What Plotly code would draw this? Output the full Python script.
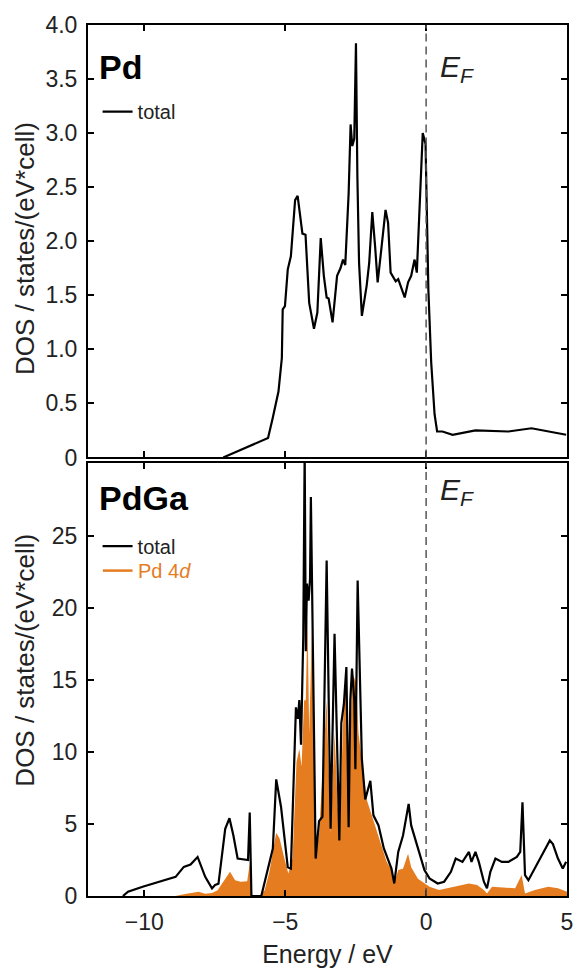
import plotly.graph_objects as go

# ---------------- data ----------------
# Pd total DOS (top panel)
pd_energy = [-7.20, -6.55, -5.61, -5.44, -5.24, -5.12, -5.09, -5.01, -4.91, -4.80,
             -4.65, -4.56, -4.47, -4.39, -4.28, -4.15, -3.98, -3.86, -3.74, -3.63,
             -3.53, -3.46, -3.32, -3.16, -3.04, -2.95, -2.87, -2.75, -2.68, -2.62,
             -2.55, -2.49, -2.44, -2.38, -2.28, -2.11, -2.02, -1.91, -1.81, -1.72,
             -1.58, -1.44, -1.35, -1.26, -1.08, -0.99, -0.76, -0.64, -0.53, -0.41,
             -0.33, -0.12, -0.02, 0.08, 0.18, 0.30, 0.39, 0.58, 0.94, 1.75,
             2.92, 3.74, 4.97]
pd_total = [0.00, 0.076, 0.18, 0.37, 0.61, 0.92, 1.37, 1.40, 1.74, 1.86,
            2.38, 2.42, 2.20, 2.07, 2.06, 1.43, 1.19, 1.34, 2.03, 1.68,
            1.48, 1.47, 1.25, 1.68, 1.75, 1.83, 1.78, 2.44, 3.08, 2.88,
            2.95, 3.83, 2.60, 1.80, 1.31, 1.59, 1.80, 2.27, 1.95, 1.62,
            1.95, 2.29, 2.17, 1.71, 1.63, 1.65, 1.48, 1.62, 1.68, 1.83,
            1.71, 3.00, 2.90, 1.55, 0.88, 0.40, 0.24, 0.24, 0.21, 0.25,
            0.24, 0.27, 0.21]

# PdGa total DOS (bottom panel)
pdga_energy = [-10.76, -10.58, -10.06, -8.89, -8.60, -8.36, -8.11, -7.84, -7.60, -7.49,
               -7.37, -7.19, -7.13, -6.98, -6.84, -6.69, -6.43, -6.32, -6.26, -6.20,
               -5.85, -5.61, -5.44, -5.32, -5.15, -4.91, -4.80, -4.62, -4.55, -4.50,
               -4.44, -4.36, -4.31, -4.27, -4.23, -4.17, -4.12, -4.09, -4.04, -3.98,
               -3.92, -3.80, -3.68, -3.53, -3.39, -3.25, -3.08, -3.01, -2.92, -2.83,
               -2.75, -2.69, -2.63, -2.55, -2.51, -2.43, -2.34, -2.28, -2.16, -1.98,
               -1.87, -1.69, -1.50, -1.23, -1.13, -0.99, -0.82, -0.62, -0.53, -0.29,
               -0.06, 0.12, 0.41, 0.64, 0.88, 1.05, 1.29, 1.52, 1.61, 1.75,
               1.87, 2.05, 2.16, 2.28, 2.46, 2.69, 2.92, 3.22, 3.34, 3.42,
               3.51, 3.63, 3.86, 4.15, 4.39, 4.50, 4.68, 4.85, 4.97]
pdga_total = [0.00, 0.30, 0.64, 1.33, 2.02, 2.18, 2.71, 1.33, 0.53, 0.77,
              0.85, 3.75, 4.67, 5.40, 4.20, 2.60, 2.50, 2.50, 5.80, 0.00,
              0.00, 1.90, 3.30, 8.10, 6.20, 2.00, 1.90, 13.1, 12.3, 13.6,
              10.5, 18.0, 31.0, 17.0, 21.7, 20.5, 22.0, 27.7, 19.8, 12.0,
              2.60, 5.20, 5.50, 23.3, 4.67, 18.2, 3.86, 12.0, 13.3, 15.9,
              4.78, 13.6, 15.8, 13.6, 8.80, 21.9, 13.6, 9.50, 6.70, 8.00,
              5.60, 4.90, 3.30, 1.90, 0.87, 3.06, 4.20, 6.40, 4.90, 3.30,
              1.80, 1.22, 0.87, 0.99, 1.68, 2.60, 2.37, 3.06, 2.37, 3.06,
              2.37, 0.99, 0.53, 1.68, 2.60, 2.37, 2.37, 2.71, 3.06, 6.50,
              1.45, 1.10, 1.91, 2.94, 3.86, 3.60, 2.60, 1.91, 2.37]

# PdGa Pd 4d projected DOS (bottom panel, filled)
pd4d_energy = [-12.0, -8.90, -8.50, -8.07, -7.84, -7.60, -7.40, -7.19, -6.96, -6.78,
               -6.58, -6.35, -6.24, -6.20, -5.90, -5.73, -5.56, -5.32, -5.20, -5.03,
               -4.89, -4.74, -4.60, -4.50, -4.42, -4.33, -4.27, -4.21, -4.15, -4.04,
               -3.92, -3.80, -3.53, -3.39, -3.25, -3.08, -2.92, -2.83, -2.75, -2.63,
               -2.48, -2.40, -2.28, -2.11, -1.93, -1.64, -1.40, -1.23, -1.13, -0.99,
               -0.82, -0.64, -0.53, -0.29, -0.06, 0.12, 0.46, 0.94, 1.52, 1.81,
               2.05, 2.16, 2.34, 3.16, 3.39, 3.51, 3.86, 4.33, 4.68, 5.00]
pd4d_dos = [0.00, 0.00, 0.15, 0.30, 0.15, 0.20, 0.40, 0.99, 1.68, 1.10,
            0.99, 1.03, 2.50, 0.00, 0.00, 0.40, 1.70, 4.40, 4.00, 2.60,
            1.56, 2.60, 9.30, 10.2, 9.00, 13.6, 13.6, 19.4, 11.3, 19.4,
            2.60, 4.30, 13.6, 4.40, 11.3, 3.80, 13.6, 15.5, 4.50, 15.5,
            14.8, 11.3, 9.50, 6.70, 5.60, 3.75, 2.37, 1.80, 0.87, 1.80,
            1.90, 2.94, 2.00, 1.20, 0.87, 0.64, 0.41, 0.64, 0.87, 0.76,
            0.41, 0.18, 0.64, 0.53, 1.45, 0.18, 0.41, 0.64, 0.53, 0.30]

x_ticks = [-10, -5, 0, 5]
y1_ticks = [0, 0.5, 1.0, 1.5, 2.0, 2.5, 3.0, 3.5, 4.0]
y1_ticktext = ["0", "0.5", "1.0", "1.5", "2.0", "2.5", "3.0", "3.5", "4.0"]
y2_ticks = [0, 5, 10, 15, 20, 25]

ORANGE = "#E57C1F"
FONT = "Liberation Sans, Arial, sans-serif"
YTITLE = "DOS / states/(eV*cell)"

fig = go.Figure()

fig.add_trace(go.Scatter(x=pd_energy, y=pd_total, mode="lines", name="total",
                         line=dict(color="black", width=2.2), xaxis="x", yaxis="y",
                         legend="legend"))

fig.add_trace(go.Scatter(x=pd4d_energy, y=pd4d_dos, mode="lines", fill="tozeroy",
                         fillcolor=ORANGE, line=dict(color=ORANGE, width=0),
                         name="Pd 4d", showlegend=False, xaxis="x2", yaxis="y2"))
fig.add_trace(go.Scatter(x=pdga_energy, y=pdga_total, mode="lines", name="total",
                         line=dict(color="black", width=2.2), xaxis="x2", yaxis="y2",
                         legend="legend2"))

axis_common = dict(showline=True, linecolor="black", linewidth=2, mirror="ticks",
                   ticks="inside", ticklen=6, tickwidth=2, tickcolor="black",
                   showgrid=False, zeroline=False,
                   tickfont=dict(family=FONT, size=23, color="#222"))

fig.update_layout(
    width=585, height=976,
    margin=dict(l=88, r=12, t=23, b=75),
    paper_bgcolor="white", plot_bgcolor="white",
    font=dict(family=FONT, color="#222"),
    xaxis=dict(domain=[0, 1], anchor="y", range=[-12, 5], tickvals=x_ticks,
               showticklabels=False, **axis_common),
    yaxis=dict(domain=[0.5035, 1], anchor="x", range=[0, 4.0], tickvals=y1_ticks,
               ticktext=y1_ticktext, ticklabelstandoff=4, **axis_common),
    xaxis2=dict(domain=[0, 1], anchor="y2", range=[-12, 5], tickvals=x_ticks,
                ticklabelstandoff=4,
                title=dict(text="Energy / eV", font=dict(family=FONT, size=25), standoff=12),
                **axis_common),
    yaxis2=dict(domain=[0, 0.4977], anchor="x2", range=[0, 30.1], tickvals=y2_ticks,
                ticklabelstandoff=4, **axis_common),
    legend=dict(x=0.02, y=0.923, xanchor="left", yanchor="top",
                bgcolor="rgba(0,0,0,0)", font=dict(family=FONT, size=20, color="#222"),
                itemwidth=30),
    legend2=dict(x=0.02, y=0.424, xanchor="left", yanchor="top",
                 bgcolor="rgba(0,0,0,0)", font=dict(family=FONT, size=20, color="#222"),
                 itemwidth=30, tracegroupgap=0),
    showlegend=True,
)

# y-axis titles (one per panel)
for ypos in (0.7437, 0.2711):
    fig.add_annotation(text=YTITLE, xref="paper", yref="paper", x=-0.132, y=ypos,
                       xanchor="center", yanchor="middle", textangle=-90, showarrow=False,
                       font=dict(family=FONT, size=26, color="#222"))

for xa, ya in (("x", "y"), ("x2", "y2")):
    fig.add_shape(type="line", xref=xa, yref=ya + " domain", x0=0, x1=0, y0=0, y1=1,
                  line=dict(color="#555", width=1.5, dash="8px,5px"), layer="above")

# legend entry for the Pd 4d projection (orange line + orange label)
LEG_Y = 0.3736
fig.add_shape(type="line", xref="paper", yref="paper", x0=0.031, x1=0.093,
              y0=LEG_Y, y1=LEG_Y, line=dict(color=ORANGE, width=2.5))
fig.add_annotation(text="Pd 4<i>d</i>", xref="paper", yref="paper", x=0.101, y=LEG_Y,
                   xanchor="left", yanchor="middle", showarrow=False,
                   font=dict(family=FONT, size=20, color=ORANGE))

fig.add_annotation(text="<b>Pd</b>", xref="paper", yref="paper", x=0.018, y=0.952,
                   xanchor="left", yanchor="middle", showarrow=False,
                   font=dict(family=FONT, size=34, color="black"))
fig.add_annotation(text="<b>PdGa</b>", xref="paper", yref="paper", x=0.018, y=0.457,
                   xanchor="left", yanchor="middle", showarrow=False,
                   font=dict(family=FONT, size=34, color="black"))
fig.add_annotation(text="<i>E<sub>F</sub></i>", xref="x", yref="paper", x=0.42, y=0.950,
                   xanchor="left", yanchor="middle", showarrow=False,
                   font=dict(family=FONT, size=30, color="#222"))
fig.add_annotation(text="<i>E<sub>F</sub></i>", xref="x2", yref="paper", x=0.42, y=0.464,
                   xanchor="left", yanchor="middle", showarrow=False,
                   font=dict(family=FONT, size=30, color="#222"))

fig.write_html("out.html", include_plotlyjs=True, config={"displayModeBar": False})
